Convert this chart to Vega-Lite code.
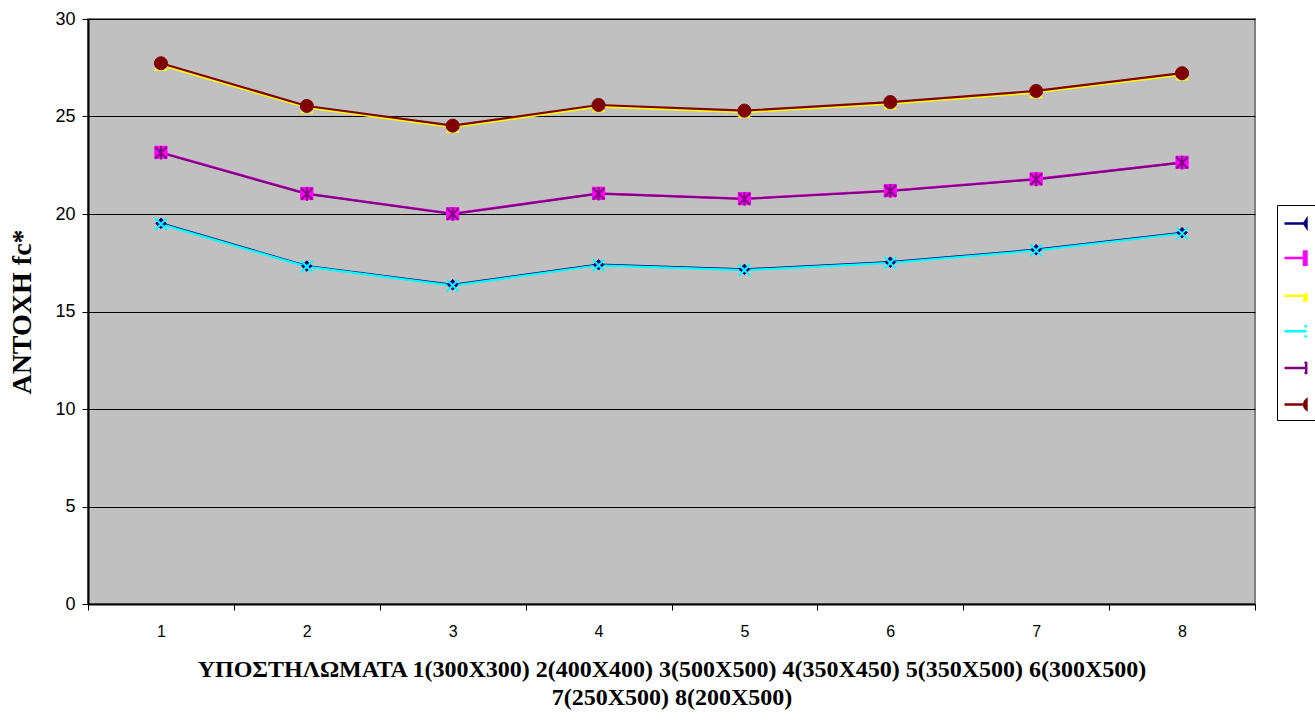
{
  "$schema": "https://vega.github.io/schema/vega-lite/v6.json",
  "width": 1167,
  "height": 585,
  "autosize": {"type": "none"},
  "padding": {"left": 88, "top": 19, "right": 60, "bottom": 111},
  "background": "white",
  "config": {
    "view": {"fill": "#C0C0C0", "stroke": "#808080", "strokeWidth": 2},
    "axis": {"labelFont": "Liberation Sans", "labelColor": "black", "domainColor": "black", "tickColor": "black"}
  },
  "data": {
    "values": [
      {"n": 1, "series": "Series1", "v": 19.52}, {"n": 2, "series": "Series1", "v": 17.33}, {"n": 3, "series": "Series1", "v": 16.37}, {"n": 4, "series": "Series1", "v": 17.40}, {"n": 5, "series": "Series1", "v": 17.16}, {"n": 6, "series": "Series1", "v": 17.53}, {"n": 7, "series": "Series1", "v": 18.17}, {"n": 8, "series": "Series1", "v": 19.04},
      {"n": 1, "series": "Series2", "v": 23.16}, {"n": 2, "series": "Series2", "v": 21.05}, {"n": 3, "series": "Series2", "v": 20.02}, {"n": 4, "series": "Series2", "v": 21.06}, {"n": 5, "series": "Series2", "v": 20.79}, {"n": 6, "series": "Series2", "v": 21.20}, {"n": 7, "series": "Series2", "v": 21.80}, {"n": 8, "series": "Series2", "v": 22.65},
      {"n": 1, "series": "Series3", "v": 27.65}, {"n": 2, "series": "Series3", "v": 25.46}, {"n": 3, "series": "Series3", "v": 24.45}, {"n": 4, "series": "Series3", "v": 25.51}, {"n": 5, "series": "Series3", "v": 25.22}, {"n": 6, "series": "Series3", "v": 25.66}, {"n": 7, "series": "Series3", "v": 26.23}, {"n": 8, "series": "Series3", "v": 27.14},
      {"n": 1, "series": "Series4", "v": 19.48}, {"n": 2, "series": "Series4", "v": 17.30}, {"n": 3, "series": "Series4", "v": 16.33}, {"n": 4, "series": "Series4", "v": 17.37}, {"n": 5, "series": "Series4", "v": 17.12}, {"n": 6, "series": "Series4", "v": 17.49}, {"n": 7, "series": "Series4", "v": 18.13}, {"n": 8, "series": "Series4", "v": 19.00},
      {"n": 1, "series": "Series5", "v": 23.14}, {"n": 2, "series": "Series5", "v": 21.03}, {"n": 3, "series": "Series5", "v": 20.00}, {"n": 4, "series": "Series5", "v": 21.04}, {"n": 5, "series": "Series5", "v": 20.77}, {"n": 6, "series": "Series5", "v": 21.18}, {"n": 7, "series": "Series5", "v": 21.78}, {"n": 8, "series": "Series5", "v": 22.63},
      {"n": 1, "series": "Series6", "v": 27.73}, {"n": 2, "series": "Series6", "v": 25.54}, {"n": 3, "series": "Series6", "v": 24.53}, {"n": 4, "series": "Series6", "v": 25.59}, {"n": 5, "series": "Series6", "v": 25.30}, {"n": 6, "series": "Series6", "v": 25.74}, {"n": 7, "series": "Series6", "v": 26.31}, {"n": 8, "series": "Series6", "v": 27.22}
    ]
  },
  "encoding": {
    "x": {
      "field": "n", "type": "ordinal",
      "scale": {"type": "band", "paddingInner": 0, "paddingOuter": 0},
      "axis": {
        "tickBand": "extent", "labelAngle": 0, "labelFontSize": 16, "labelPadding": 13, "tickSize": 6, "domainWidth": 2,
        "title": ["ΥΠΟΣΤΗΛΩΜΑΤΑ 1(300X300) 2(400X400) 3(500X500) 4(350X450) 5(350X500) 6(300X500)", "7(250X500) 8(200X500)"],
        "titleFont": "Liberation Serif", "titleFontSize": 24, "titleFontWeight": "bold", "titleColor": "black", "titlePadding": 18, "titleLineHeight": 28
      }
    },
    "y": {
      "field": "v", "type": "quantitative",
      "scale": {"domain": [0, 30], "nice": false, "zero": true},
      "axis": {
        "values": [0, 5, 10, 15, 20, 25, 30], "grid": true, "gridColor": "black", "gridWidth": 1, "gridOpacity": 1,
        "labelFontSize": 18, "labelPadding": 7, "tickSize": 6, "domainWidth": 2,
        "title": "ΑΝΤΟΧΗ fc*", "titleFont": "Liberation Serif", "titleFontSize": 28, "titleFontWeight": "bold", "titleColor": "black", "titlePadding": 18
      }
    }
  },
  "layer": [
    {
      "mark": {"type": "line", "strokeWidth": 2.2},
      "encoding": {
        "stroke": {
          "field": "series", "type": "nominal",
          "scale": {"domain": ["Series1", "Series2", "Series3", "Series4", "Series5", "Series6"], "range": ["#000080", "#FF00FF", "#FFFF00", "#00FFFF", "#800080", "#800000"]},
          "legend": {
            "orient": "none", "legendX": 1189, "legendY": 186, "title": null,
            "strokeColor": "black", "fillColor": "white", "padding": 5, "rowPadding": 11.6,
            "labelExpr": "''", "labelOffset": 0, "symbolSize": 576, "symbolStrokeWidth": 2.5, "symbolOffset": 10,
            "symbolType": "M-1.75,0H0.08M-0.12,-0.45H0.08V0.45H-0.12Z",
            "encode": {
              "symbols": {
                "update": {
                  "shape": {"signal": "datum.value === 'Series1' ? 'M-1.75,0H0.08M-0.12,0L0.08,-0.3V0.3Z' : datum.value === 'Series2' ? 'M-1.75,0H0.08M-0.12,-0.55H0.08V0.55H-0.12Z' : datum.value === 'Series3' ? 'M-1.75,0H0.08M0.08,-0.2L-0.1,0.4H0.08Z' : datum.value === 'Series4' ? 'M-1.75,0H0.08M-0.05,-0.5L0.08,-0.35M-0.05,0.5L0.08,0.35' : datum.value === 'Series5' ? 'M-1.75,0H0.08M-0.05,-0.5L0.08,-0.35M-0.05,0.5L0.08,0.35M0.06,-0.5V0.5' : 'M-1.75,0H0.08M0.08,-0.4A0.5,0.5 0 0 0 0.08,0.4Z'"},
                  "fill": {"scale": "stroke", "field": "value"},
                  "stroke": {"scale": "stroke", "field": "value"},
                  "strokeWidth": {"value": 2.5}
                }
              }
            }
          }
        },
        "order": {"field": "n"}
      }
    },
    {
      "transform": [{"filter": "datum.series === 'Series1'"}],
      "mark": {"type": "point", "shape": "diamond", "filled": true, "fill": "#000080", "stroke": "#000080", "strokeWidth": 1, "size": 110, "opacity": 1}
    },
    {
      "transform": [{"filter": "datum.series === 'Series2'"}],
      "mark": {"type": "point", "shape": "square", "filled": true, "fill": "#FF00FF", "stroke": "#FF00FF", "strokeWidth": 1, "size": 150, "opacity": 1}
    },
    {
      "transform": [{"filter": "datum.series === 'Series3'"}],
      "mark": {"type": "point", "shape": "triangle-up", "filled": true, "fill": "#FFFF00", "stroke": "#FFFF00", "strokeWidth": 1, "size": 150, "opacity": 1}
    },
    {
      "transform": [{"filter": "datum.series === 'Series4'"}],
      "mark": {"type": "point", "shape": "M-1,-1L1,1M-1,1L1,-1", "filled": false, "stroke": "#00FFFF", "strokeWidth": 2, "size": 140, "opacity": 1}
    },
    {
      "transform": [{"filter": "datum.series === 'Series5'"}],
      "mark": {"type": "point", "shape": "M-1,-1L1,1M-1,1L1,-1M0,-1.2L0,1.2", "filled": false, "stroke": "#800080", "strokeWidth": 2, "size": 130, "opacity": 1}
    },
    {
      "transform": [{"filter": "datum.series === 'Series6'"}],
      "mark": {"type": "point", "shape": "circle", "filled": true, "fill": "#800000", "stroke": "#800000", "strokeWidth": 1, "size": 170, "opacity": 1}
    }
  ]
}
